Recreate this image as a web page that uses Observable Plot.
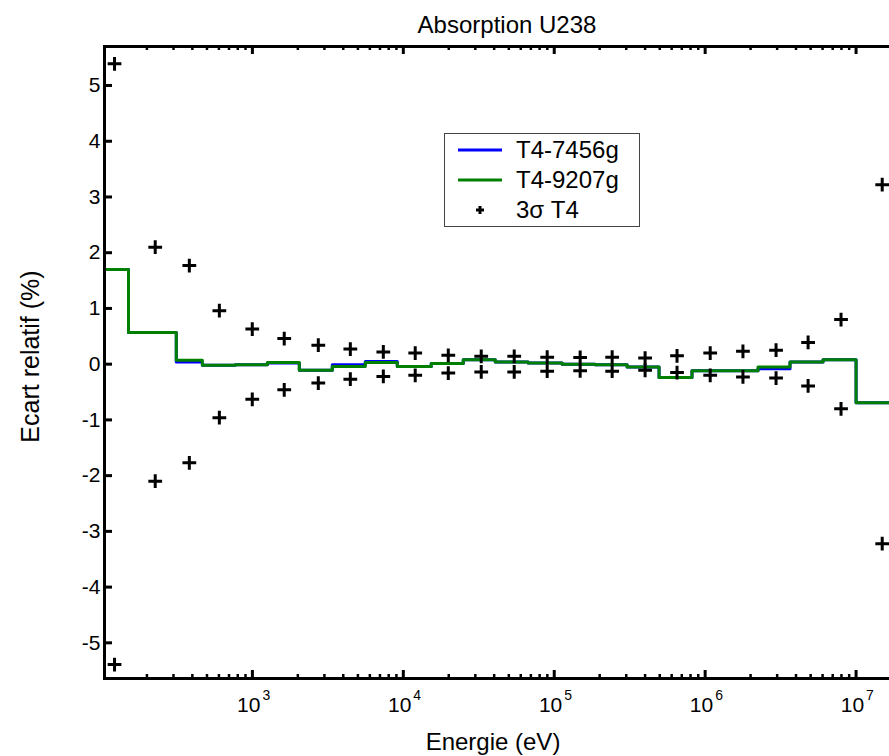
<!DOCTYPE html>
<html><head><meta charset="utf-8">
<script src="https://cdn.jsdelivr.net/npm/d3@7"></script>
<script src="https://cdn.jsdelivr.net/npm/@observablehq/plot@0.6"></script>
<style>
html,body{margin:0;padding:0;background:#fff;overflow:hidden;}
#wrap{position:relative;width:889px;height:756px;overflow:hidden;}
#wrap > svg{max-width:none !important;width:901px;height:756px;display:block;}
#legend{position:absolute;left:444px;top:133px;}
</style></head><body><div id="wrap"></div>
<script>
const title = "Absorption U238";
const xLabel = "Energie (eV)";
const yLabel = "Ecart relatif (%)";
const seriesNames = ["T4-7456g", "T4-9207g"];
const sigmaName = "3σ T4";
// group boundaries (eV)
const groupEdges = [104.7, 151, 313, 466, 770, 1256, 2046, 3383, 5598, 9120, 15310, 24950, 40660, 67200, 112800, 186600, 304000, 495000, 818000, 1355000, 2240000, 3650000, 6040000, 10000000, 20000000];
// relative deviation per group (%)
const t7456 = [1.70, 0.57, 0.04, -0.02, -0.01, 0.02, -0.11, -0.01, 0.05, -0.04, 0.01, 0.08, 0.04, 0.02, 0.00, -0.01, -0.05, -0.24, -0.12, -0.12, -0.08, 0.04, 0.08, -0.69];
const t9207 = [1.70, 0.57, 0.07, -0.02, -0.01, 0.03, -0.11, -0.04, 0.03, -0.04, 0.01, 0.08, 0.04, 0.02, 0.00, -0.01, -0.05, -0.24, -0.12, -0.12, -0.05, 0.04, 0.08, -0.69];
// 3 sigma points
const sigmaE = [122, 227, 382, 604, 998, 1625, 2733, 4455, 7370, 11990, 19860, 32830, 54300, 89800, 148500, 242000, 400000, 651000, 1080000, 1780000, 2950000, 4810000, 7950000, 14900000];
const sigma3 = [5.39, 2.10, 1.77, 0.96, 0.63, 0.46, 0.34, 0.27, 0.22, 0.20, 0.16, 0.14, 0.14, 0.125, 0.12, 0.125, 0.11, 0.15, 0.20, 0.23, 0.25, 0.39, 0.80, 3.22];
const yTicks = [-5, -4, -3, -2, -1, 0, 1, 2, 3, 4, 5];
const xDecades = [1e3, 1e4, 1e5, 1e6, 1e7];
const xExponents = ["3", "4", "5", "6", "7"];
const colors = ["#0000ff", "#008000"];

const W = 901, H = 756, ML = 104, MR = 0, MT = 46, MB = 78;
const frameW = W - ML - MR, frameH = H - MT - MB;
const xDomain = [groupEdges[0], groupEdges[groupEdges.length - 1]];
const yDomain = [-5.64, 5.70];

function steps(vals) {
  const pts = vals.map((v, i) => ({x: groupEdges[i], y: v}));
  pts.push({x: groupEdges[groupEdges.length - 1], y: vals[vals.length - 1]});
  return pts;
}
const sigPts = sigmaE.flatMap((e, i) => [{x: e, y: sigma3[i]}, {x: e, y: -sigma3[i]}]);
const minor = d3.scaleLog().domain(xDomain).ticks()
  .filter(t => Math.abs(Math.log10(t) - Math.round(Math.log10(t))) > 1e-9);

const font = "Liberation Sans, Arial, Helvetica, sans-serif";

const chart = Plot.plot({
  width: W, height: H,
  marginLeft: ML, marginRight: MR, marginTop: MT, marginBottom: MB,
  style: {fontFamily: font, background: "#fff", overflow: "visible", maxWidth: "none"},
  x: {type: "log", domain: xDomain, axis: null},
  y: {domain: yDomain, axis: null},
  marks: [
    Plot.line(steps(t7456), {x: "x", y: "y", curve: "step-after", stroke: colors[0], strokeWidth: 3}),
    Plot.line(steps(t9207), {x: "x", y: "y", curve: "step-after", stroke: colors[1], strokeWidth: 3}),
    Plot.dot(sigPts, {x: "x", y: "y", symbol: "plus", r: 4.5, stroke: "black", strokeWidth: 3}),
    // ticks (inward)
    Plot.tickY(yTicks, {y: d => d, stroke: "black", strokeWidth: 3, insetRight: frameW - 8}),
    Plot.tickX(xDecades, {x: d => d, stroke: "black", strokeWidth: 3, insetTop: frameH - 8}),
    Plot.tickX(xDecades, {x: d => d, stroke: "black", strokeWidth: 3, insetBottom: frameH - 8}),
    Plot.tickX(minor, {x: d => d, stroke: "black", strokeWidth: 2.5, insetTop: frameH - 4}),
    Plot.tickX(minor, {x: d => d, stroke: "black", strokeWidth: 2.5, insetBottom: frameH - 4}),
    Plot.frame({stroke: "black", strokeWidth: 3}),
    // tick labels
    Plot.text(yTicks, {y: d => d, text: d => String(d), frameAnchor: "left", textAnchor: "end", lineAnchor: "middle", dx: -4, fontSize: 21}),
    Plot.text(xDecades, {x: d => d, text: () => "10", frameAnchor: "bottom", textAnchor: "end", lineAnchor: "middle", dx: 8, dy: 27, fontSize: 21}),
    Plot.text(xDecades, {x: d => d, text: (d, i) => xExponents[i], frameAnchor: "bottom", textAnchor: "start", lineAnchor: "middle", dx: 10, dy: 17, fontSize: 14}),
    // titles
    Plot.text([title], {frameAnchor: "top", lineAnchor: "middle", textAnchor: "middle", dx: 4, dy: -21, fontSize: 24}),
    Plot.text([xLabel], {frameAnchor: "bottom", lineAnchor: "middle", textAnchor: "middle", dx: -10, dy: 64, fontSize: 24}),
    Plot.text([yLabel], {frameAnchor: "left", rotate: -90, lineAnchor: "middle", textAnchor: "middle", dx: -74, dy: -6, fontSize: 25})
  ]
});
chart.style.maxWidth = "none";
const wrap = document.getElementById("wrap");
wrap.appendChild(chart);

// legend
const lg = document.createElement("div");
lg.id = "legend";
const lw = 196, lh = 94;
const rows = [
  {name: seriesNames[0], kind: "line", color: colors[0]},
  {name: seriesNames[1], kind: "line", color: colors[1]},
  {name: sigmaName, kind: "plus", color: "black"}
];
let svg = `<svg width="${lw}" height="${lh}" xmlns="http://www.w3.org/2000/svg" style="display:block;font-family:${font}">`;
svg += `<rect x="0.5" y="0.5" width="${lw - 1}" height="${lh - 1}" fill="#fff" stroke="#444" stroke-width="1"/>`;
rows.forEach((r, i) => {
  const cy = 17 + 30 * i;
  if (r.kind === "line") {
    svg += `<line x1="14" x2="58" y1="${cy}" y2="${cy}" stroke="${r.color}" stroke-width="3"/>`;
  } else {
    svg += `<path d="M32,${cy}h8M36,${cy - 4}v8" stroke="black" stroke-width="3"/>`;
  }
  svg += `<text x="72" y="${cy}" dy="0.35em" font-size="24" fill="black">${r.name}</text>`;
});
svg += `</svg>`;
lg.innerHTML = svg;
wrap.appendChild(lg);
</script>
</body></html>
